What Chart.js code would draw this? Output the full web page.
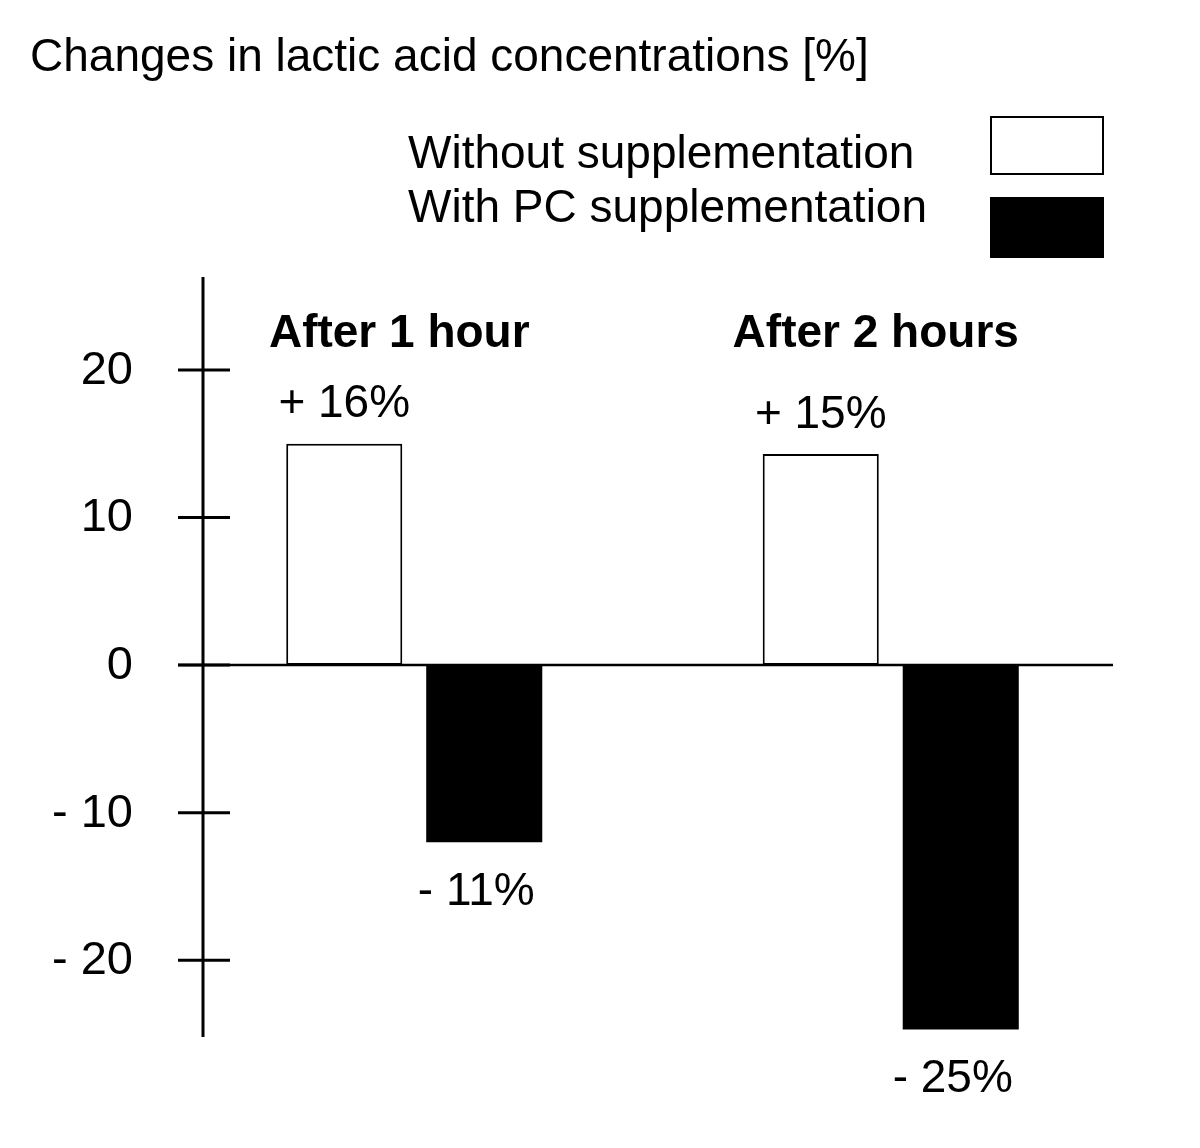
<!DOCTYPE html>
<html>
<head>
<meta charset="utf-8">
<title>Changes in lactic acid concentrations</title>
<script src="https://cdn.jsdelivr.net/npm/chart.js"></script>
<style>
	body {
		margin: 0;
		background: white;
		font-family: "Liberation Sans", Arial, sans-serif;
	}
	#wrap {
		position: relative;
		width: 1200px;
		height: 1148px;
	}
	#chart {
		position: absolute;
		left: 0;
		top: 0;
	}
	.title {
		position: absolute;
		left: 30px;
		top: 32px;
		font-size: 46px;
		line-height: 46px;
		white-space: nowrap;
	}
	.legend-text {
		position: absolute;
		left: 408px;
		font-size: 46px;
		line-height: 46px;
		white-space: nowrap;
	}
	.legend-box {
		position: absolute;
		left: 990px;
		width: 114px;
		box-sizing: border-box;
	}
</style>
</head>
<body>
<div id="wrap">
	<canvas id="chart" width="1200" height="1148"></canvas>
	<div class="title">Changes in lactic acid concentrations [%]</div>
	<div id="legend"></div>
</div>
<script>

// values (bar heights), printed labels as shown
const groups = ['After 1 hour', 'After 2 hours'];
const seriesNames = ['Without supplementation', 'With PC supplementation'];
const withoutSupp = [15.0, 14.3];
const withPC = [-12.0, -24.7];
const withoutLabels = ['+ 16%', '+ 15%'];
const withPCLabels = ['- 11%', '- 25%'];
const yTicks = [20, 10, 0, -10, -20];
const yTickLabels = ['20', '10', '0', '- 10', '- 20'];

const FONT = '"Liberation Sans", Arial, sans-serif';

// legend rows: text on the left, swatch on the right
const legendRows = [
	{textTop: 129, boxTop: 116, boxH: 59},
	{textTop: 183, boxTop: 197, boxH: 61}
];

const htmlLegend = {
	id: 'htmlLegend',
	afterUpdate(chart) {
		var el = document.getElementById('legend');
		el.innerHTML = '';
		chart.data.datasets.forEach(function (ds, i) {
			var t = document.createElement('div');
			t.className = 'legend-text';
			t.style.top = legendRows[i].textTop + 'px';
			t.textContent = ds.label;
			el.appendChild(t);
			var b = document.createElement('div');
			b.className = 'legend-box';
			b.style.top = legendRows[i].boxTop + 'px';
			b.style.height = legendRows[i].boxH + 'px';
			b.style.background = ds.backgroundColor;
			b.style.border = '2px solid ' + ds.borderColor;
			el.appendChild(b);
		});
	}
};

// hand-drawn looking axes: y axis crosses its ticks, x axis along zero
const axesAndLabels = {
	id: 'axesAndLabels',
	afterDatasetsDraw(chart) {
		const ctx = chart.ctx;
		const area = chart.chartArea;
		const x = chart.scales.x;
		const y = chart.scales.y;
		const axisX = area.left + 27;
		const zeroY = y.getPixelForValue(0);

		ctx.save();
		ctx.strokeStyle = 'black';
		ctx.fillStyle = 'black';

		// x axis
		ctx.lineWidth = 2.5;
		ctx.beginPath();
		ctx.moveTo(axisX - 25, zeroY);
		ctx.lineTo(area.right - 16, zeroY);
		ctx.stroke();

		// y axis
		ctx.lineWidth = 3;
		ctx.beginPath();
		ctx.moveTo(axisX, area.top);
		ctx.lineTo(axisX, area.bottom);
		ctx.stroke();

		// ticks and tick labels
		ctx.font = '47px ' + FONT;
		ctx.textAlign = 'right';
		ctx.textBaseline = 'middle';
		yTicks.forEach(function (v, i) {
			const py = y.getPixelForValue(v);
			ctx.beginPath();
			ctx.moveTo(axisX - 25, py);
			ctx.lineTo(axisX + 27, py);
			ctx.stroke();
			ctx.fillText(yTickLabels[i], axisX - 70, py + 1);
		});

		// group titles
		ctx.font = 'bold 46px ' + FONT;
		ctx.textAlign = 'center';
		groups.forEach(function (g, i) {
			ctx.fillText(g, x.getPixelForValue(i) - 15, area.top + 57);
		});

		// value labels above / below each bar
		ctx.font = '46px ' + FONT;
		const labelSets = [withoutLabels, withPCLabels];
		chart.data.datasets.forEach(function (ds, di) {
			chart.getDatasetMeta(di).data.forEach(function (bar, i) {
				const v = ds.data[i];
				const ly = v >= 0 ? bar.y - 39 : bar.y + 50;
				const lx = v >= 0 ? bar.x : bar.x - 8;
				ctx.fillText(labelSets[di][i], lx, ly);
			});
		});
		ctx.restore();
	}
};

const data = {
	labels: groups,
	datasets: [{
		label: seriesNames[0],
		data: withoutSupp,
		backgroundColor: 'white',
		borderColor: 'black',
		borderWidth: 2,
		borderSkipped: false
	}, {
		label: seriesNames[1],
		data: withPC,
		backgroundColor: 'black',
		borderColor: 'black',
		borderWidth: 0
	}]
};

const config = {
	type: 'bar',
	data,
	options: {
		responsive: false,
		animation: false,
		devicePixelRatio: 1,
		categoryPercentage: 0.5876,
		barPercentage: 0.829,
		layout: {
			padding: {left: 176, right: 71, top: 277, bottom: 111}
		},
		plugins: {
			legend: {display: false},
			tooltip: {enabled: false},
			title: {display: false}
		},
		scales: {
			x: {display: false},
			y: {display: false, min: -25.2, max: 26.3}
		}
	},
	plugins: [htmlLegend, axesAndLabels]
};

var myChart = new Chart(document.getElementById('chart'), config);
</script>
</body>
</html>
